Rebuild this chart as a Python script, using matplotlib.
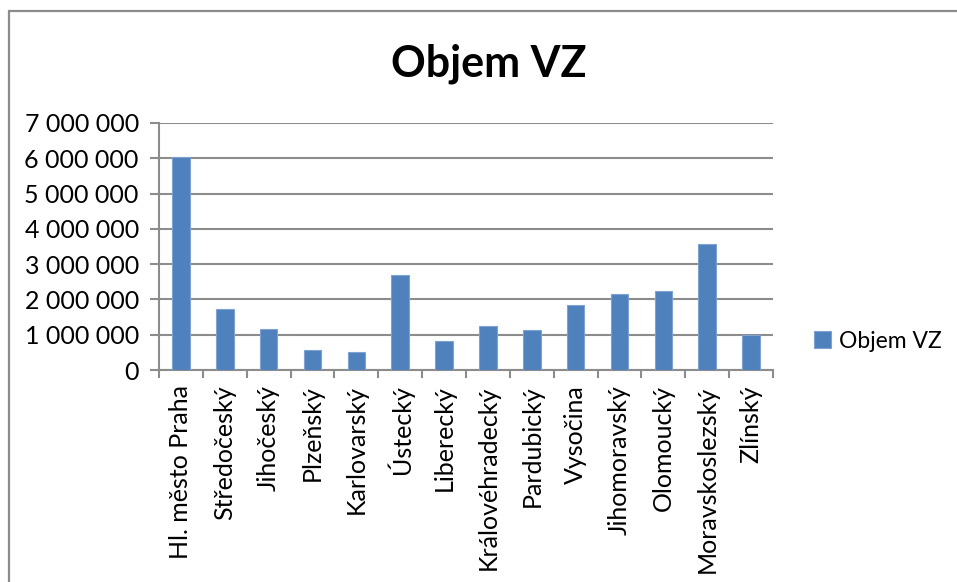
import matplotlib.pyplot as plt
from matplotlib.ticker import FuncFormatter, FixedLocator, NullFormatter
from matplotlib.patches import Rectangle

# data
kraje = ['Hl. město Praha', 'Středočeský', 'Jihočeský', 'Plzeňský', 'Karlovarský',
         'Ústecký', 'Liberecký', 'Královéhradecký', 'Pardubický', 'Vysočina',
         'Jihomoravský', 'Olomoucký', 'Moravskoslezský', 'Zlínský']
objem = [6050000, 1740000, 1160000, 580000, 520000,
         2700000, 820000, 1260000, 1130000, 1830000,
         2150000, 2230000, 3570000, 980000]
y_ticks = [0, 1000000, 2000000, 3000000, 4000000, 5000000, 6000000, 7000000]

plt.rcParams['font.family'] = ['Lato', 'DejaVu Sans']
W, H = 957, 582
fig = plt.figure(figsize=(W / 100, H / 100), dpi=100)

# chart area border (Excel style)
fig.patches.append(Rectangle((9 / W, -0.1), 1.2, 1 - 11 / H + 0.1, transform=fig.transFigure,
                             fill=False, edgecolor='#8c8c8c', linewidth=1.6))

ax = fig.add_axes([159 / W, 1 - 370 / H, (773 - 159) / W, (370 - 123) / H])

barva = '#4F81BD'
x = range(len(kraje))
ax.bar(x, objem, width=0.4, color=barva, edgecolor='#7ea3d3', linewidth=0.8,
       label='Objem VZ', zorder=3)

ax.set_xlim(-0.5, len(kraje) - 0.5)
ax.set_ylim(0, 7000000)
ax.set_yticks(y_ticks)
ax.yaxis.set_major_formatter(FuncFormatter(lambda v, p: f'{int(v):,}'.replace(',', ' ')))
ax.grid(axis='y', color='#8c8c8c', linewidth=1.5, zorder=0)

# category labels centered, tick marks on category boundaries
ax.xaxis.set_major_locator(FixedLocator([i - 0.5 for i in range(len(kraje) + 1)]))
ax.xaxis.set_major_formatter(NullFormatter())
ax.xaxis.set_minor_locator(FixedLocator(list(x)))
ax.set_xticklabels(kraje, minor=True, rotation=90, fontsize=18)
ax.tick_params(axis='x', which='minor', length=0, pad=11)
ax.tick_params(axis='x', which='major', length=6, width=1.5, color='#8c8c8c', direction='out')
ax.tick_params(axis='y', length=6.5, width=1.5, color='#8c8c8c', labelsize=18, pad=8)

for s in ['top', 'right']:
    ax.spines[s].set_visible(False)
for s in ['left', 'bottom']:
    ax.spines[s].set_color('#8c8c8c')
    ax.spines[s].set_linewidth(1.5)

fig.text(489 / W, 1 - 77 / H, 'Objem VZ', ha='center', va='baseline',
         fontsize=31, fontweight='bold')

fig.legend(loc='center left', bbox_to_anchor=(814 / W, 1 - 341 / H), frameon=False,
           borderpad=0, borderaxespad=0, fontsize=16.5,
           handlelength=0.75, handleheight=0.75, handletextpad=0.35)

fig.savefig('out.png', dpi=100)
